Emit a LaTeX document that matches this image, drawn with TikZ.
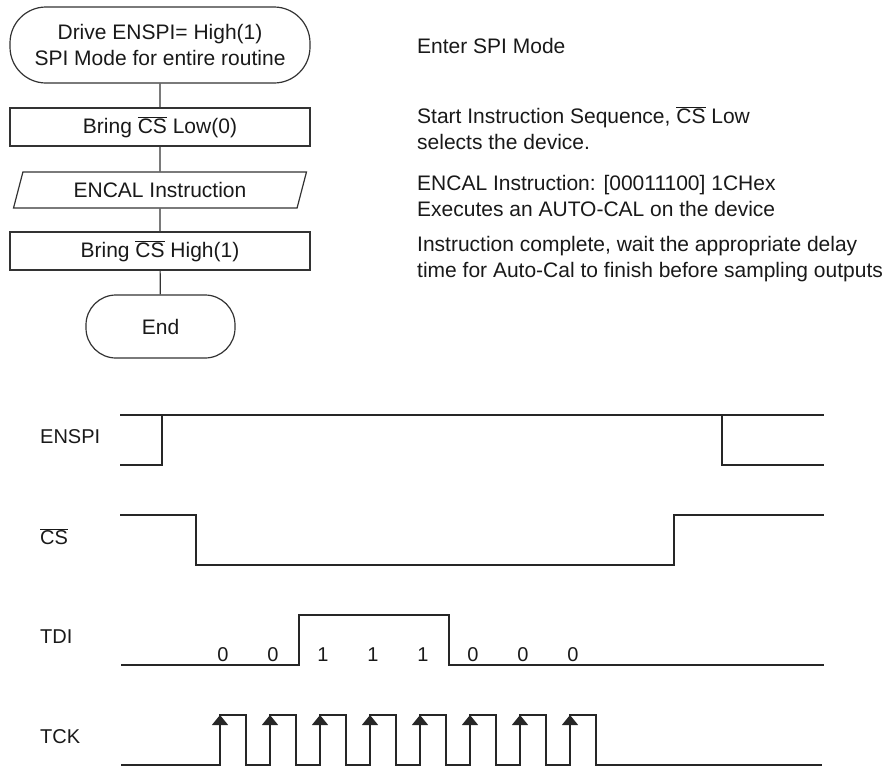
\documentclass[tikz,border=0pt]{standalone}
\usepackage{fontspec}
\setmainfont{Liberation Sans}
\usetikzlibrary{shapes.geometric}
\usetikzlibrary{arrows.meta}

\newcommand{\csbar}{$\overline{\hbox{CS}}$}

\tikzset{
  flowline/.style={line width=1.2pt, draw=black!80},
  terminal/.style={draw=black!80, line width=1.2pt, align=center, inner sep=0pt},
  process/.style={draw=black!80, line width=1.2pt, minimum width=300, minimum height=38, inner sep=0pt},
  datain/.style={trapezium, trapezium left angle=69, trapezium right angle=111,
    trapezium stretches=true, draw=black!80, line width=1.2pt,
    minimum width=293, minimum height=36, inner sep=0pt},
  note/.style={anchor=base west, align=left, inner sep=0pt},
  siglabel/.style={anchor=west, inner sep=0pt, font=\fontsize{20}{24}\selectfont},
  bitlabel/.style={anchor=base, inner sep=0pt, font=\fontsize{20}{24}\selectfont},
  wave/.style={line width=1.2pt, draw=black!85},
}

\begin{document}
\begin{tikzpicture}[x=1pt,y=-1pt,font=\fontsize{21}{26}\selectfont, text=black!90]
\useasboundingbox (0,0) rectangle (892,769);

% Flowchart
\node[terminal, minimum width=300, minimum height=76, rounded corners=36] (drive) at (160,45)
    {Drive ENSPI= High(1)\\SPI Mode for entire routine};
\node[process] (cslow) at (160,127) {Bring \csbar{} Low(0)};
\node[datain] (encal) at (160,190) {ENCAL Instruction};
\node[process] (cshigh) at (160,251) {Bring \csbar{} High(1)};
\node[terminal, minimum width=149, minimum height=63, rounded corners=30] (end) at (160.5,326.5) {End};

\draw[flowline] (drive) -- (cslow) -- (encal) -- (cshigh) -- (end);

% Notes (base = last line)
\node[note] (noteenter) at (417,53) {Enter SPI Mode};
\node[note] (notestart) at (417,149) {Start Instruction Sequence, \csbar{} Low\\selects the device.};
\node[note] (noteencal) at (417,216) {ENCAL Instruction: [00011100] 1CHex\\Executes an AUTO-CAL on the device};
\node[note] (notedone) at (417,277) {Instruction complete, wait the appropriate delay\\time for Auto-Cal to finish before sampling outputs};

% Signal names
\node[siglabel] (enspilbl) at (40,437) {ENSPI};
\node[siglabel] (cslbl) at (40,537) {\csbar};
\node[siglabel] (tdilbl) at (40,637) {TDI};
\node[siglabel] (tcklbl) at (40,737) {TCK};

% ENSPI
\draw[wave] (120,415) -- (824,415);
\draw[wave] (120,465) -- (162,465) -- (162,415);
\draw[wave] (722,415) -- (722,465) -- (824,465);

% CS
\draw[wave] (120,515) -- (196,515) -- (196,565) -- (674,565) -- (674,515) -- (824,515);

% TDI
\draw[wave] (121,665) -- (299,665) -- (299,615) -- (449,615) -- (449,665) -- (824,665);
\foreach \b [count=\i from 0] in {0,0,1,1,1,0,0,0}
  \node[bitlabel] (bit\i) at ({223+50*\i},661) {\b};

% TCK
\draw[wave] (121,765) \foreach \k in {0,...,7} {
    -- ({220+50*\k},765) -- ({220+50*\k},715) -- ({246+50*\k},715) -- ({246+50*\k},765)
  } -- (822,765);
\foreach \k in {0,...,7}
  \draw[wave, -{Triangle[width=16pt,length=10pt]}] ({220+50*\k},745) -- ({220+50*\k},715);
\end{tikzpicture}
\end{document}
